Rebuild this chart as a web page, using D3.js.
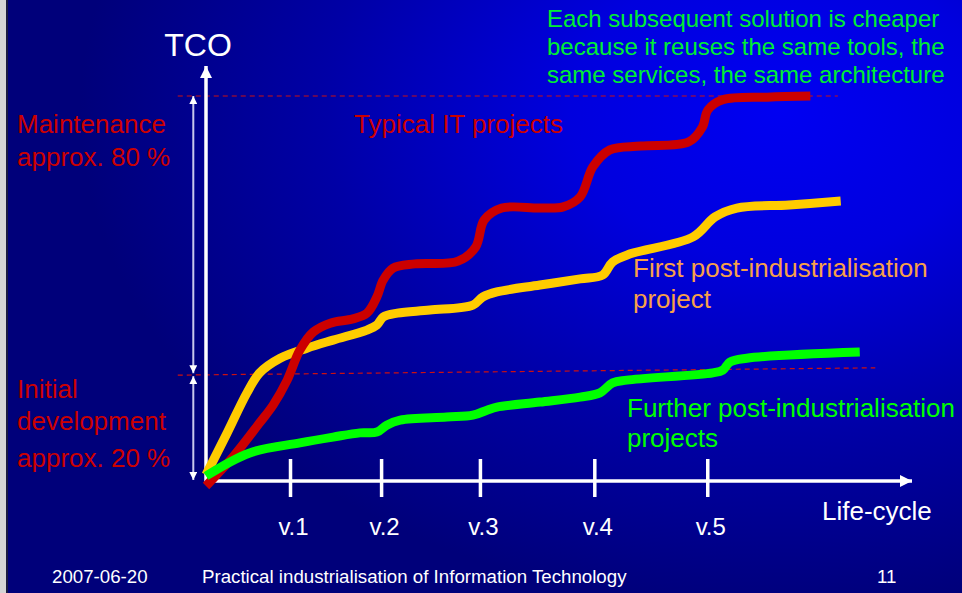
<!DOCTYPE html>
<html>
<head>
<meta charset="utf-8">
<script src="https://cdn.jsdelivr.net/npm/d3@7"></script>
<style>
  html, body { margin: 0; padding: 0; background: #00007a; }
  svg { display: block; font-family: "Liberation Sans", Arial, sans-serif; }
</style>
</head>
<body>
<div id="chart-area"></div>
<script>
let width = 962,
    height = 593;

// life-cycle position (0-100) and TCO (0-100)
let redX    = [0, 3.8, 7.6, 9.5, 11.5, 13.3, 15.2, 17.6, 20.8, 22.8, 24.2, 25.1, 26.5, 29.6, 35.7, 38.2, 39.4, 41.9, 47.3, 50.6, 53.0, 54.8, 57.2, 61.6, 68.4, 70.3, 71.1, 73.2, 79.5, 85.6];
let redY    = [-1.3, 6.2, 15.1, 19.7, 26.2, 34.0, 38.7, 41.0, 42.1, 43.6, 47.8, 52.2, 55.3, 56.4, 57.1, 60.8, 67.8, 70.9, 70.9, 71.2, 73.8, 81.6, 86.0, 87.0, 88.1, 91.9, 96.4, 99.0, 99.7, 100];
let yellowX = [0, 3.0, 5.8, 7.6, 10.5, 14.3, 18.0, 22.8, 24.2, 25.1, 27.1, 31.7, 37.8, 39.2, 41.2, 47.3, 53.0, 56.2, 57.6, 60.1, 69.0, 72.1, 75.2, 82.6, 89.9];
let yellowY = [1.6, 12.5, 22.9, 28.1, 31.9, 34.5, 36.6, 39.2, 40.5, 42.6, 43.6, 44.4, 45.7, 47.8, 49.1, 50.9, 52.5, 53.5, 56.9, 59.0, 63.4, 68.6, 70.9, 71.7, 72.7];
let greenX  = [0, 6.2, 13.3, 18.0, 21.8, 24.2, 25.6, 27.5, 34.1, 37.8, 39.8, 41.2, 47.3, 53.0, 55.8, 57.6, 59.6, 71.8, 73.2, 74.2, 76.6, 92.6];
let greenY  = [1.3, 7.3, 9.9, 11.4, 12.5, 12.7, 14.5, 15.8, 16.6, 17.1, 18.4, 19.2, 20.5, 21.8, 22.9, 25.5, 26.2, 28.1, 28.8, 30.9, 31.9, 33.5];

let versionPos = [11.9, 24.8, 38.8, 55.0, 71.0];
let versionLabels = ["v.1", "v.2", "v.3", "v.4", "v.5"];

let maintenanceLevel = 100;
let initialLevel = [27.5, 29.4];   // dashed guide, slightly tilted

let noteLines = ["Each subsequent solution is cheaper",
                 "because it reuses the same tools, the",
                 "same services, the same architecture"];

let svg = d3.select("#chart-area").append("svg")
    .attr("width", width)
    .attr("height", height);

let x = d3.scaleLinear().domain([0, 100]).range([206, 912]);
let y = d3.scaleLinear().domain([0, 100]).range([481, 96]);

// background
let defs = svg.append("defs");
let grad = defs.append("radialGradient")
    .attr("id", "bg")
    .attr("gradientUnits", "userSpaceOnUse")
    .attr("cx", 0).attr("cy", 0).attr("r", 500)
    .attr("gradientTransform", "translate(780,110) scale(1.4,1)");
grad.append("stop").attr("offset", 0).attr("stop-color", "#0000f2");
grad.append("stop").attr("offset", 0.3).attr("stop-color", "#0000de");
grad.append("stop").attr("offset", 0.65).attr("stop-color", "#0000a6");
grad.append("stop").attr("offset", 1).attr("stop-color", "#00007a");

svg.append("rect").attr("width", width).attr("height", height).attr("fill", "url(#bg)");
svg.append("rect").attr("x", 0).attr("width", 7).attr("height", height).attr("fill", "#d4d4d4");
svg.append("rect").attr("x", 6).attr("width", 2).attr("height", height).attr("fill", "#1a1a40");

function arrowMarker(id, size, color) {
  defs.append("marker")
      .attr("id", id)
      .attr("viewBox", "0 0 10 10")
      .attr("refX", 10).attr("refY", 5)
      .attr("markerWidth", size).attr("markerHeight", size)
      .attr("markerUnits", "userSpaceOnUse")
      .attr("orient", "auto-start-reverse")
    .append("path")
      .attr("d", "M0,0L10,5L0,10Z")
      .attr("fill", color);
}
arrowMarker("axisArrow", 12, "#ffffff");
arrowMarker("dimArrow", 8, "#ffffff");

// dashed guides
svg.append("line")
    .attr("x1", x(-4)).attr("x2", x(89.5))
    .attr("y1", y(maintenanceLevel)).attr("y2", y(maintenanceLevel))
    .attr("stroke", "#cc1010").attr("stroke-width", 1.2).attr("stroke-dasharray", "5,4");
svg.append("line")
    .attr("x1", x(-4)).attr("x2", x(94.8))
    .attr("y1", y(initialLevel[0])).attr("y2", y(initialLevel[1]))
    .attr("stroke", "#cc1010").attr("stroke-width", 1.2).attr("stroke-dasharray", "5,4");

// dimension arrows
svg.append("line")
    .attr("x1", x(-1.8)).attr("x2", x(-1.8))
    .attr("y1", y(initialLevel[0]) - 2).attr("y2", y(maintenanceLevel))
    .attr("stroke", "#c8c8ec").attr("stroke-width", 2)
    .attr("marker-start", "url(#dimArrow)").attr("marker-end", "url(#dimArrow)");
svg.append("line")
    .attr("x1", x(-1.8)).attr("x2", x(-1.8))
    .attr("y1", y(0) - 1).attr("y2", y(initialLevel[0]) + 1)
    .attr("stroke", "#c8c8ec").attr("stroke-width", 2)
    .attr("marker-start", "url(#dimArrow)").attr("marker-end", "url(#dimArrow)");

// axes
svg.append("line")
    .attr("x1", x(0)).attr("x2", x(0))
    .attr("y1", y(0) + 1).attr("y2", y(107.8))
    .attr("stroke", "#ffffff").attr("stroke-width", 3.5)
    .attr("marker-end", "url(#axisArrow)");

let xAxis = d3.axisBottom(x)
    .tickValues(versionPos)
    .tickFormat((d, i) => versionLabels[i])
    .tickSizeOuter(0);

let gx = svg.append("g")
    .attr("transform", "translate(0," + y(0) + ")")
    .call(xAxis);
gx.select(".domain")
    .attr("d", "M" + x(0) + ",0H" + x(100))
    .attr("stroke", "#ffffff").attr("stroke-width", 3.5)
    .attr("marker-end", "url(#axisArrow)");
gx.selectAll(".tick line")
    .attr("y1", -22).attr("y2", 16)
    .attr("stroke", "#ffffff").attr("stroke-width", 3.5);
gx.selectAll(".tick text")
    .attr("y", 54).attr("dy", null).attr("dx", 3)
    .attr("fill", "#ffffff")
    .style("font-family", "'Liberation Sans', Arial, sans-serif")
    .style("font-size", "24px");

// curves
let line = d3.line()
    .x(d => x(d[0]))
    .y(d => y(d[1]))
    .curve(d3.curveCatmullRom.alpha(0.5));

let series = [
  { name: "yellow", xs: yellowX, ys: yellowY, color: "#ffcc00" },
  { name: "red",    xs: redX,    ys: redY,    color: "#cc0000" },
  { name: "green",  xs: greenX,  ys: greenY,  color: "#00ff00" }
];

svg.selectAll(".curve")
    .data(series)
    .enter().append("path")
    .attr("class", "curve")
    .attr("d", s => line(s.xs.map((v, i) => [v, s.ys[i]])))
    .attr("fill", "none")
    .attr("stroke", s => s.color)
    .attr("stroke-width", 9)
    .attr("stroke-linejoin", "round");

// texts
function label(txt, tx, ty, size, color, anchor) {
  return svg.append("text")
      .attr("x", tx).attr("y", ty)
      .attr("fill", color)
      .attr("text-anchor", anchor || "start")
      .style("font-size", size + "px")
      .text(txt);
}

label("TCO", 198, 56, 32, "#ffffff", "middle");
label("Life-cycle", 822, 520, 26, "#ffffff");

label("Maintenance", 17, 133, 26, "#cc0000");
label("approx. 80 %", 17, 166, 26, "#cc0000");
label("Initial", 17, 398, 26, "#cc0000");
label("development", 17, 430, 26, "#cc0000");
label("approx. 20 %", 17, 467, 26, "#cc0000");

label("Typical IT projects", 354, 133, 26, "#cc0000");
label("First post-industrialisation", 633, 277, 26, "#f7a048");
label("project", 633, 308, 26, "#f7a048");
label("Further post-industrialisation", 627, 417, 26, "#00ff00");
label("projects", 627, 447, 26, "#00ff00");

noteLines.forEach((t, i) => label(t, 547, 27 + i * 28, 24, "#00ee33"));

label("2007-06-20", 52, 583, 18.7, "#ffffff");
label("Practical industrialisation of Information Technology", 202, 583, 18.7, "#ffffff");
label("11", 877, 583, 18.7, "#ffffff");
</script>
</body>
</html>
